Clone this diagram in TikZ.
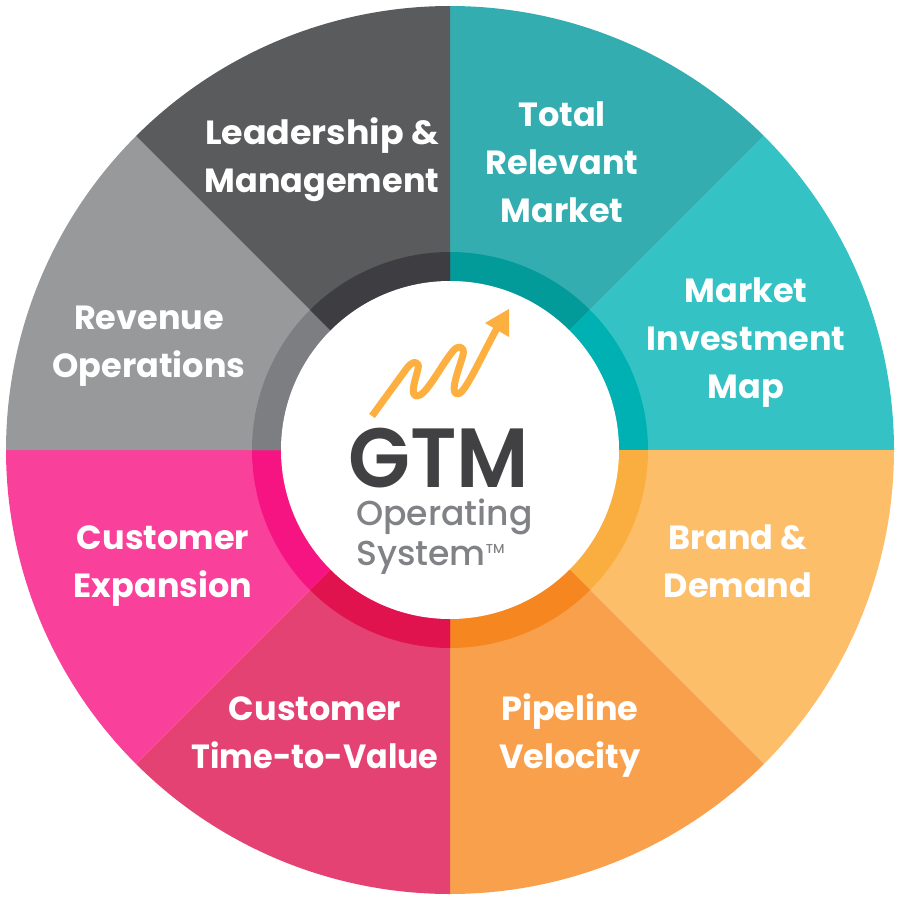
\documentclass[tikz,border=0pt]{standalone}
\usepackage{fontspec}
\setmainfont{Poppins}
\newfontfamily\logomed{Poppins Medium}
\newfontfamily\logosemi{Poppins SemiBold}
\definecolor{c1}{HTML}{34ADB0}\definecolor{r1}{HTML}{039A9A}
\definecolor{c2}{HTML}{34C2C4}\definecolor{r2}{HTML}{00B1B3}
\definecolor{c3}{HTML}{FDBE69}\definecolor{r3}{HTML}{FBAE40}
\definecolor{c4}{HTML}{F8A04C}\definecolor{r4}{HTML}{F6861F}
\definecolor{c5}{HTML}{E44272}\definecolor{r5}{HTML}{E0134F}
\definecolor{c6}{HTML}{F9409A}\definecolor{r6}{HTML}{F61482}
\definecolor{c7}{HTML}{98999B}\definecolor{r7}{HTML}{7D7E82}
\definecolor{c8}{HTML}{5A5B5D}\definecolor{r8}{HTML}{3E3D41}
\definecolor{gtmdark}{HTML}{414042}\definecolor{gtmgrey}{HTML}{808285}
\definecolor{arrowc}{HTML}{FDB03F}
\tikzset{
  lab/.style={text=white,align=center,font=\fontsize{33.5bp}{48bp}\selectfont\bfseries,inner sep=0pt},
}
\newcommand{\wedgeat}[3]{% start angle, colour, ring colour
  \fill[#2] (450,450) -- ++(#1:444) arc[start angle=#1,delta angle=45,radius=444] -- cycle;
  \fill[#3] (450,450) -- ++(#1:198) arc[start angle=#1,delta angle=45,radius=198] -- cycle;
}
\begin{document}
\begin{tikzpicture}[x=1bp,y=-1bp]
\useasboundingbox (0,0) rectangle (900,900);
\wedgeat{-90}{c1}{r1}
\wedgeat{-45}{c2}{r2}
\wedgeat{0}{c3}{r3}
\wedgeat{45}{c4}{r4}
\wedgeat{90}{c5}{r5}
\wedgeat{135}{c6}{r6}
\wedgeat{180}{c7}{r7}
\wedgeat{225}{c8}{r8}
\fill[white] (450,450) circle[radius=169];
\node[lab] (lead) at (322,160) {\scalebox{1.04}[1]{Leadership \&}\\Management};
\node[lab] (total) at (562,162) {Total\\Relevant\\Market};
\node[lab] (map) at (746,343) {Market\\Investment\\Map};
\node[lab] (ops) at (149,346) {Revenue\\Operations};
\node[lab] (brand) at (738,561) {Brand \&\\Demand};
\node[lab] (exp) at (163,566) {Customer\\Expansion};
\node[lab] (ttv) at (315,733) {Customer\\\scalebox{0.95}[1]{Time-to-Value}};
\node[lab] (pipe) at (570,736) {Pipeline\\Velocity};
% logo arrow
\draw[arrowc,line width=7bp,line join=round] (372,416)
  -- (407,368)
  .. controls (413,360) and (420,361) .. (418,369)
  .. controls (416,378) and (409,396) .. (417,396)
  .. controls (426,396) and (440,367) .. (453,351)
  .. controls (459,344) and (465,347) .. (463,355)
  .. controls (460,366) and (449,393) .. (457,394)
  .. controls (464,395) and (475,369) .. (497,328);
\fill[arrowc] (509,309) -- (485,323) -- (509,337) -- cycle;
\node[text=gtmdark,font=\fontsize{84bp}{84bp}\selectfont\logosemi,inner sep=0pt,anchor=base] (gtm) at (439,487) {\scalebox{0.96}[1]{GTM}};
\node[text=gtmgrey,font=\fontsize{34.6bp}{35bp}\selectfont\logomed,inner sep=0pt,anchor=base west] (op) at (356,525) {Operating};
\node[text=gtmgrey,font=\fontsize{34.6bp}{35bp}\selectfont\logomed,inner sep=0pt,anchor=base west] (sys) at (356,565) {System\raisebox{12bp}{\fontsize{13bp}{13bp}\selectfont TM}};
\end{tikzpicture}
\end{document}
